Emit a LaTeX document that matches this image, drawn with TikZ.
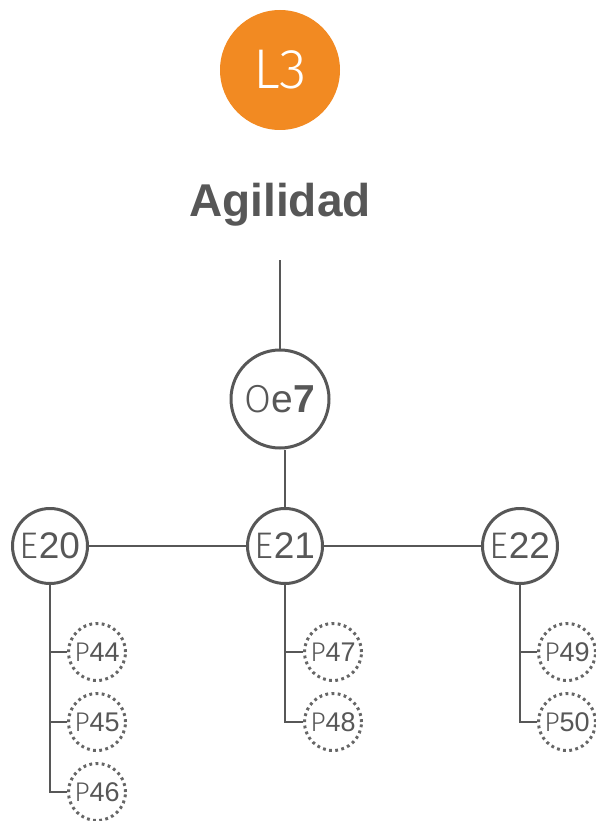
\documentclass[tikz,border=0pt]{standalone}
\usepackage{fontspec}
\setmainfont{Liberation Sans}
\newfontfamily\lightf{Fira Sans Light}
\definecolor{orng}{HTML}{F28A22}
\definecolor{ink}{HTML}{575757}
\definecolor{lightink}{HTML}{666666}
\begin{document}
\begin{tikzpicture}[x=1pt,y=-1pt,
  every node/.style={inner sep=0pt, text=ink},
  conn/.style={draw=ink, line width=1.6pt},
  bigc/.style={circle, draw=ink, line width=3pt, minimum size=#1},
  pc/.style={circle, draw=lightink, line width=3pt, dash pattern=on 2.8pt off 3.4pt, minimum size=57pt, font=\fontsize{27}{27}\selectfont},
]
\useasboundingbox (0,0) rectangle (595,821);
\node[circle, fill=orng, minimum size=120pt, text=white, font=\fontsize{56}{56}\selectfont\lightf] (L3) at (280,70) {L3};
\node[font=\fontsize{46}{46}\selectfont\bfseries] (title) at (280,205) {Agilidad};
\coordinate (top) at (280,260);
\node[bigc=98pt, font=\fontsize{39}{39}\selectfont] (Oe7) at (280,399) {{\lightf O}e\textbf{7}};
\node[bigc=75pt, font=\fontsize{37}{37}\selectfont] (E20) at (50,546) {{\lightf E}20};
\node[bigc=75pt, font=\fontsize{37}{37}\selectfont] (E21) at (285,546) {{\lightf E}21};
\node[bigc=75pt, font=\fontsize{37}{37}\selectfont] (E22) at (520,546) {{\lightf E}22};
\node[pc] (P44) at (97,652) {{\lightf P}44};
\node[pc] (P45) at (97,722) {{\lightf P}45};
\node[pc] (P46) at (97,792) {{\lightf P}46};
\node[pc] (P47) at (333,652) {{\lightf P}47};
\node[pc] (P48) at (333,722) {{\lightf P}48};
\node[pc] (P49) at (567,652) {{\lightf P}49};
\node[pc] (P50) at (567,722) {{\lightf P}50};
\draw[conn] (top) -- (Oe7.north);
\draw[conn] (E21.north) -- (E21.north |- Oe7.south);
\draw[conn] (E20.east) -- (E21.west);
\draw[conn] (E21.east) -- (E22.west);
\draw[conn] (E20.south) |- (P46.west);
\draw[conn] (E20.south |- P44.west) -- (P44.west);
\draw[conn] (E20.south |- P45.west) -- (P45.west);
\draw[conn] (E21.south) |- (P48.west);
\draw[conn] (E21.south |- P47.west) -- (P47.west);
\draw[conn] (E22.south) |- (P50.west);
\draw[conn] (E22.south |- P49.west) -- (P49.west);
\end{tikzpicture}
\end{document}
